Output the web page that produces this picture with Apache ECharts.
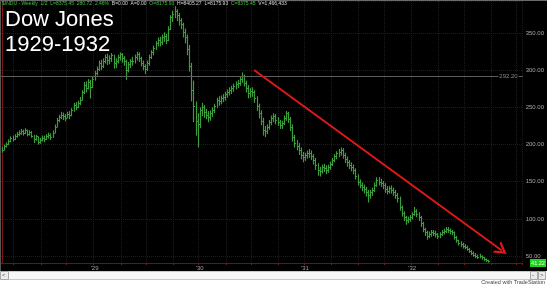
<!DOCTYPE html>
<html>
<head>
<meta charset="utf-8">
<script src="https://cdn.jsdelivr.net/npm/echarts@6/dist/echarts.min.js"></script>
<style>
html,body{margin:0;padding:0;background:#000;}
#c{width:547px;height:285px;}
</style>
</head>
<body>
<div id="c"></div>
<script>
// Weekly Dow Jones Industrial Average, Feb 1928 - Jul 1932
const closeVals = [
193,198,201,205,209,207,212,214,215,218,216,219,214,217,212,208,211,204,206,209,
207,211,213,210,216,224,233,237,240,238,236,241,240,246,253,251,256,260,270,280,
276,284,278,288,296,301,310,306,312,318,314,316,320,310,313,318,322,316,313,300,
308,312,313,318,322,316,310,306,302,310,318,324,330,336,340,338,344,346,340,356,
371,376,380,374,368,362,352,344,328,306,273,252,232,228,246,250,244,240,237,242,
246,252,260,258,263,264,268,271,273,276,279,281,283,288,292,283,276,269,272,270,
262,252,242,232,220,218,224,230,236,238,233,230,226,229,236,242,234,224,210,202,
198,193,186,183,186,188,189,184,179,172,166,164,170,168,166,170,174,179,184,188,
190,192,186,180,176,172,170,166,158,150,146,143,140,136,132,136,139,146,152,150,
148,145,140,138,141,139,136,132,128,116,108,102,98,100,102,106,110,107,102,94,
86,82,77,80,82,81,79,77,80,82,84,86,85,83,82,76,71,68,66,64,
62,60,57,54,52,50,49,50,48,46,44,43
];
const highVals = [
197,200,203,207,211,212,214,217,219,221,220,222,220,219,218,213,213,211,209,212,
212,214,216,215,219,227,236,240,244,243,241,244,245,249,256,257,259,264,273,284,
285,288,287,291,299,305,313,314,316,321,322,320,323,321,316,321,324,323,319,314,
311,315,318,321,325,324,318,313,308,313,321,327,333,339,344,345,348,351,349,359,
374,380,386,382,377,370,364,356,348,334,310,286,258,242,250,256,253,248,245,246,
250,255,263,265,266,268,271,274,277,279,282,285,287,291,297,294,286,280,276,277,
273,265,255,246,236,225,227,233,239,242,241,237,233,232,239,245,244,237,227,213,
206,202,196,190,189,192,194,192,187,182,175,170,173,174,172,173,177,182,187,191,
194,196,195,189,184,179,176,173,168,160,153,149,146,143,139,139,142,149,156,156,
154,151,148,144,144,145,142,139,135,130,118,110,104,103,105,109,116,113,109,104,
96,88,84,83,85,85,84,81,82,85,87,89,89,87,85,83,77,72,70,68,
66,64,61,58,56,54,52,53,51,49,47,45
];
const lowVals = [
189,192,196,199,203,204,206,209,211,213,212,214,211,212,209,202,205,200,201,204,
203,206,208,206,209,215,223,230,234,233,231,235,234,238,244,246,249,253,259,268,
270,274,262,276,286,293,299,300,303,309,307,308,311,302,303,309,313,310,306,287,
297,303,306,309,313,311,305,300,295,299,306,315,320,327,332,332,334,338,335,339,
354,365,370,366,360,355,344,336,320,298,258,230,212,196,222,238,236,234,230,232,
237,242,249,252,254,257,259,263,266,268,271,274,276,279,283,278,270,262,263,264,
256,245,235,226,212,210,214,220,226,230,227,225,221,221,226,232,229,218,204,196,
192,186,180,176,178,181,182,179,173,166,158,157,161,163,160,162,166,171,176,180,
183,185,181,175,170,167,164,160,153,145,141,137,134,130,122,127,131,136,143,145,
143,140,135,133,134,134,131,127,122,111,103,97,92,94,96,99,104,102,97,89,
82,77,72,74,76,77,75,73,74,77,79,81,81,79,78,72,68,64,62,60,
59,57,54,51,49,47,46,47,45,43,42,41
];
const lastLow = 41.22;
const refLevel = 292.20;
const yearTickIdx = [44, 94, 144, 195];
const yearTickLabels = ["'29", "'30", "'31", "'32"];
const quarterIdx = [6, 19, 31, 44, 57, 69, 82, 94, 107, 119, 132, 144, 157, 170, 182, 195, 208, 220, 233, 245];
const trendStart = [119.8, 300.2];
const trendEnd = [237.6, 57.5];
const nCats = 248;

const weeks = [];
for (let i = 0; i < nCats; i++) {
  const d = new Date(Date.UTC(1928, 1, 3 + 7 * i));
  weeks.push(d.toISOString().slice(0, 10));
}
const barData = closeVals.map((c, i) => [i, highVals[i], lowVals[i], c]);

const chart = echarts.init(document.getElementById('c'), null, {renderer: 'canvas'});
const green = '#3c9e3c';

chart.setOption({
  backgroundColor: '#000',
  animation: false,
  grid: {left: 1, right: 18, top: 1, bottom: 22, containLabel: false},
  xAxis: [{
    type: 'category',
    data: weeks,
    boundaryGap: true,
    axisLine: {show: true, lineStyle: {color: '#6e1212', width: 1}},
    axisTick: {show: true, length: 2, interval: (i) => quarterIdx.includes(i), lineStyle: {color: '#8a1a1a'}},
    axisLabel: {
      interval: (i) => yearTickIdx.includes(i),
      formatter: (v, i) => { const k = yearTickIdx.indexOf(i); return k >= 0 ? yearTickLabels[k] : ''; },
      color: '#a0a0a0', fontSize: 6, margin: 2, fontFamily: 'Liberation Sans'
    },
    splitLine: {show: true, interval: (i) => quarterIdx.includes(i), lineStyle: {color: '#1c1c1c', type: 'dotted'}}
  }, {
    type: 'value', min: -0.5, max: nCats - 0.5, show: false
  }],
  yAxis: [{
    type: 'value',
    position: 'right',
    min: 40.6, max: 393.1,
    splitNumber: 7, minInterval: 50, maxInterval: 50,
    axisLine: {show: true, lineStyle: {color: '#7a1616', width: 1}},
    axisTick: {show: false},
    axisLabel: {
      showMinLabel: false, showMaxLabel: false,
      formatter: (v) => (Math.abs(v % 50) < 1e-6 ? v.toFixed(2) : ''),
      color: '#a8a8a8', fontSize: 6, margin: 3, fontFamily: 'Liberation Sans'
    },
    splitLine: {show: true, lineStyle: {color: '#1c1c1c', type: 'dotted'}}
  }],
  series: [{
    type: 'custom',
    xAxisIndex: 0, yAxisIndex: 0,
    data: barData,
    encode: {x: 0, y: [1, 2, 3]},
    renderItem: function (params, api) {
      const i = api.value(0);
      const hi = api.coord([i, api.value(1)]);
      const lo = api.coord([i, api.value(2)]);
      const cl = api.coord([i, api.value(3)]);
      const x = Math.round(hi[0]) + 0.5;
      const yc = Math.round(cl[1]) + 0.5;
      return {
        type: 'group',
        children: [
          {type: 'line', shape: {x1: x, y1: hi[1], x2: x, y2: lo[1]}, style: {stroke: green, lineWidth: 1.15}},
          {type: 'line', shape: {x1: x, y1: yc, x2: x + 1.5, y2: yc}, style: {stroke: green, lineWidth: 1}}
        ]
      };
    },
    markLine: {
      silent: true, symbol: ['none', 'none'], animation: false,
      data: [
        {yAxis: refLevel, lineStyle: {color: '#5e5e5e', width: 1, type: 'solid'},
         label: {show: true, position: 'insideEnd', formatter: refLevel.toFixed(2), color: '#8a8a8a', fontSize: 6,
                 backgroundColor: '#000', padding: [0, 1], distance: [4, -3], fontFamily: 'Liberation Sans'}}
      ]
    },
    z: 2
  }, {
    type: 'line',
    xAxisIndex: 1, yAxisIndex: 0,
    data: [],
    markLine: {
      silent: true, animation: false,
      symbol: ['none', 'path://M0,12 L7,0 L14,12 L11.5,12 L7,4.5 L2.5,12 Z'],
      symbolSize: [14, 12],
      lineStyle: {color: '#e01818', width: 2, type: 'solid'},
      label: {show: false},
      data: [[{coord: trendStart}, {coord: trendEnd}]]
    },
    z: 3
  }],
  graphic: [
    {type: 'line', shape: {x1: 0, y1: 0.5, x2: 547, y2: 0.5}, style: {stroke: '#6a6a6a', lineWidth: 1}, z: 100},
    {type: 'line', shape: {x1: 0.5, y1: 0, x2: 0.5, y2: 271}, style: {stroke: '#555', lineWidth: 1}, z: 100},
    {type: 'text', left: 5, top: 7, z: 100,
     style: {text: 'Dow Jones\n1929-1932', fill: '#ffffff', font: '22px "Liberation Sans", Arial, sans-serif', lineHeight: 25}},
    {type: 'text', left: 2, top: 1, z: 100,
     style: {
       text: '{g|$INDU - Weekly}  {g|1/2}  {g|L=8375.45}  {g|280.72}  {g|2.46%}  {w|B=0.00}  {w|A=0.00}  {g|O=8175.93}  {w|H=8405.27}  {w|L=8175.93}  {g|C=8375.45}  {w|V=1,466,433}',
       font: '5px "Liberation Sans", Arial, sans-serif',
       rich: {
         g: {fill: '#3fc43f', font: '5px "Liberation Sans", Arial, sans-serif'},
         w: {fill: '#d8d8d8', font: '5px "Liberation Sans", Arial, sans-serif'}
       }
     }},
    {type: 'rect', shape: {x: 0, y: 271, width: 547, height: 14}, style: {fill: '#ffffff'}, z: 100},
    {type: 'rect', shape: {x: 0.5, y: 271.5, width: 545, height: 8}, style: {fill: '#f7f7f7', stroke: '#c8c8c8', lineWidth: 1}, z: 101},
    {type: 'rect', shape: {x: 0.5, y: 271.5, width: 8, height: 8}, style: {fill: '#ececec', stroke: '#a8a8a8', lineWidth: 1}, z: 102},
    {type: 'text', left: 2, top: 272, z: 103, style: {text: '<', fill: '#555', font: '6px "Liberation Sans", Arial'}},
    {type: 'rect', shape: {x: 530.5, y: 271.5, width: 7, height: 8}, style: {fill: '#ececec', stroke: '#a8a8a8', lineWidth: 1}, z: 102},
    {type: 'rect', shape: {x: 538.5, y: 271.5, width: 7, height: 8}, style: {fill: '#ececec', stroke: '#a8a8a8', lineWidth: 1}, z: 102},
    {type: 'text', left: 532, top: 272, z: 103, style: {text: '-', fill: '#555', font: '6px "Liberation Sans", Arial'}},
    {type: 'text', left: 540, top: 272, z: 103, style: {text: '>', fill: '#555', font: '6px "Liberation Sans", Arial'}},
    {type: 'text', right: 2, top: 279, z: 103, style: {text: 'Created with TradeStation', fill: '#444', font: '5.5px "Liberation Sans", Arial'}}
  ]
});

// price marker box for the final low, placed through the chart's own y scale
const py = chart.convertToPixel({seriesIndex: 0}, [0, lastLow])[1];
const zr = chart.getZr();
const boxRect = new echarts.graphic.Rect({
  shape: {x: 530, y: Math.round(py) - 4, width: 16, height: 8},
  style: {fill: '#1ed21e'}, z: 200, zlevel: 1
});
const boxText = new echarts.graphic.Text({
  style: {x: 538, y: Math.round(py), text: lastLow.toFixed(2), fill: '#e8ffe8', align: 'center', verticalAlign: 'middle',
          font: '5.5px "Liberation Sans", Arial'},
  z: 201, zlevel: 1
});
zr.add(boxRect);
zr.add(boxText);
</script>
</body>
</html>
